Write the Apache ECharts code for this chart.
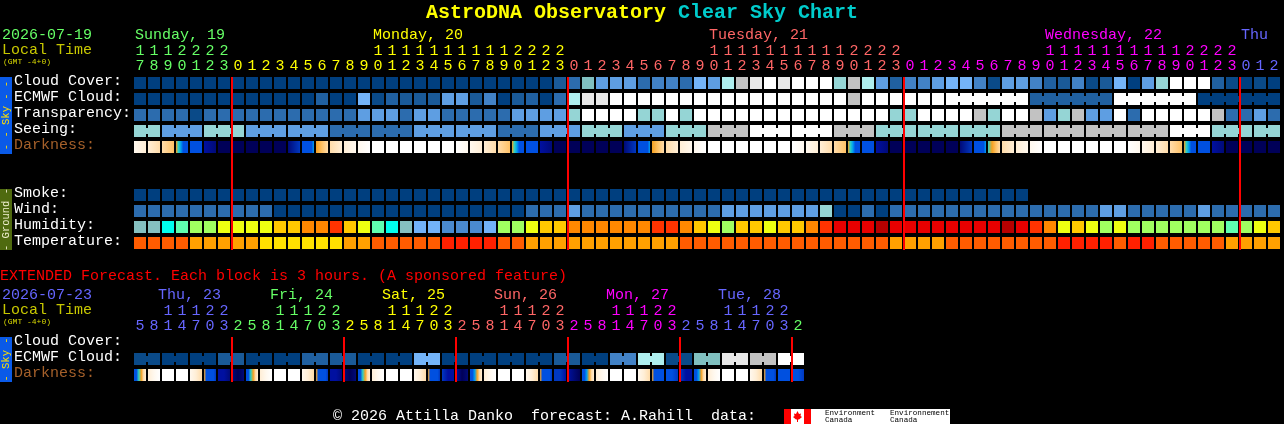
<!DOCTYPE html>
<html><head><meta charset="utf-8">
<style>html,body{margin:0;padding:0;background:#000;overflow:hidden}#c{width:1284px;height:424px}</style>
<script src="https://cdn.jsdelivr.net/npm/echarts@6/dist/echarts.min.js"></script>
</head><body><div id="c"></div>
<script>
// ---------- palettes (index = level)
const skyLevels = ['#003f7f','#0a4a88','#1a5a98','#2060a0','#2c6cae','#4282c6','#5e9ee2','#74b4f8','#aeeeee','#95d5d5','#80c0c0','#e8e8e8','#c2c2c2','#ffffff'];
const humidityLevels = ['#85c0c0','#00ffee','#5fffb0','#a0ff60','#eeff11','#ffc800','#ff8800','#ff3300','#e80000','#b80000','#72b2f8','#4a8ad0'];
const temperatureLevels = ['#ff2000','#ff5c00','#ffa000','#ffe000'];
const darknessLevels = ['#ffffff','#fff8ee','#ffeed6','#ffdcaa','#ffc266','#f5a020','#30d0c0','#00a0f0','#0050e0','#0038c0','#0010a0','#000a78','#000058'];

// ---------- main forecast, one value per hour
const hourTens =  ['1','1','1','2','2','2','2','','','','','','','','','','','1','1','1','1','1','1','1','1','1','1','2','2','2','2','','','','','','','','','','','1','1','1','1','1','1','1','1','1','1','2','2','2','2','','','','','','','','','','','1','1','1','1','1','1','1','1','1','1','2','2','2','2','','',''];
const hourUnits = ['7','8','9','0','1','2','3','0','1','2','3','4','5','6','7','8','9','0','1','2','3','4','5','6','7','8','9','0','1','2','3','0','1','2','3','4','5','6','7','8','9','0','1','2','3','4','5','6','7','8','9','0','1','2','3','0','1','2','3','4','5','6','7','8','9','0','1','2','3','4','5','6','7','8','9','0','1','2','3','0','1','2'];
const rowLabels = ['Cloud Cover:','ECMWF Cloud:','Transparency:','Seeing:','Darkness:','','','Smoke:','Wind:','Humidity:','Temperature:'];
const cloudCover = [
 0,0,0,0,0,0,0,0,0,0, 0,0,0,0,0,0,0,0,0,0, 0,0,0,0,0,0,0,0,0,0,
 2,4,10,6,6,6,4,5,5,4, 7,6,8,12,11,13,11,13,13,13,
 9,12,8,6,3,5,5,6,7,7, 5,1,6,6,5,3,2,5,1,2, 7,0,6,9,13,13,13,3,1,0,1,0];
const ecmwfCloud = [
 0,0,0,0,0,0,0,0,0,0, 0,0,0,3,0,0,7,1,3,2, 2,2,6,6,2,5,0,2,3,0,
 4,8,11,11,13,13,13,13,13,13, 13,13,13,13,13,13,13,13,13,13,
 13,12,13,13,13,13,13,13,13,13, 13,13,13,13,3,3,3,3,3,3, 13,13,13,13,13,13,0,0,0,0,0,0];
const ecmwfBlockLengths = [1,1,1,1,1,1,1,1,1,1,1,1,1,1,1,1,1,1,1,1,1,1,1,1,1,1,1,1,1,1,1,1,1,1,1,1,1,1,1,1,1,1,1,1,1,1,1,1,1,1,1,1,1,1,1,1,1,1,6,6,6,6];
const transparency = [
 4,4,4,4,1,4,4,4,4,4, 4,4,4,4,4,4,6,6,6,4, 6,6,4,4,4,4,4,6,6,6,
 6,9,13,13,13,13,9,9,13,9, 13,13,13,13,13,13,13,13,13,13,
 13,13,13,13,9,9,13,13,13,13, 12,9,13,13,12,6,9,12,6,6, 13,4,13,13,13,13,13,12,4,4,6,4];
const seeingBlocks = [9,6,9,6,6,4,4,6,6,4,6,9,6,9,12,13,13,12,9,9,9,12,12,12,12,13,9,9];
const seeingBlockLengths = [2,3,3,3,3,3,3,3,3,3,3,3,3,3,3,3,3,3,3,3,3,3,3,3,3,3,3,2];
const darkness = [
 [1,2],[2,3],[3,4],[5,6,7,8,8,8],[8,8],[10,11],[12,12],[12,12],[12,12],[12,12],[12,12],[11,9],[8,8,8,8,8,7],[5,4,3],[3,2],[2,1],[1,0],
 [0,0],[0,0],[0,0],[0,0],[0,0],[0,0],[0,1],[1,2],[2,3],[3,4],[5,6,7,8,8,8],[8,8],[10,11],[12,12],[12,12],[12,12],[12,12],[12,12],[11,9],[8,8,8,8,8,7],[5,4,3],[3,2],[2,1],[1,0],
 [0,0],[0,0],[0,0],[0,0],[0,0],[0,0],[0,1],[1,2],[2,3],[3,4],[5,6,7,8,8,8],[8,8],[10,11],[12,12],[12,12],[12,12],[12,12],[12,12],[11,9],[8,8,8,8,8,7],[6,5,4,3],[3,2],[2,1],[1,0],
 [0,0],[0,0],[0,0],[0,0],[0,0],[0,0],[0,1],[1,2],[2,3],[3,4],[5,6,7,8,8,8],[8,8],[10,11],[12,12],[12,12],[12,12],[12,12]];
const smoke = [
 0,0,0,0,0,0,0,0,0,0, 0,0,0,0,0,0,0,0,0,0, 0,0,0,0,0,0,0,0,0,0, 0,0,0,0,0,0,0,0,0,0,
 0,0,0,0,0,0,0,0,0,0, 0,0,0,0,0,0,0,0,0,0, 0,0,0,0];
const wind = [
 4,4,4,4,4,4,4,4,4,4, 0,0,0,0,0,0,0,0,0,0, 0,0,0,0,0,0,0,0,4,4,
 4,6,4,4,4,4,4,4,4,4, 4,4,6,6,6,6,6,6,6,9,
 0,0,4,0,4,4,4,4,4,4, 4,4,4,4,4,4,4,4,4,6, 6,4,4,4,4,4,6,4,4,4,4,4];
const humidity = [
 0,0,1,2,3,3,4,4,4,4, 5,5,6,6,7,5,4,2,1,0, 10,10,11,11,11,10,3,3,4,5,
 5,6,6,6,6,6,6,7,7,6, 5,4,3,5,5,4,5,5,6,7,
 8,8,8,9,8,8,8,8,8,8, 8,8,9,8,7,6,4,5,4,3, 4,3,3,3,3,3,3,3,2,3,4,5];
const temperature = [
 1,1,1,1,2,2,2,2,2,3, 3,3,3,3,3,2,2,1,1,1, 1,1,0,0,0,0,1,1,2,2,
 2,2,2,2,2,2,2,2,2,1, 1,1,1,1,1,1,1,1,1,1,
 1,1,1,1,2,2,2,2,1,1, 1,1,1,1,1,1,0,0,0,0, 1,0,0,1,1,1,1,1,2,2,2,2];
const midnightCols = [7,31,55,79];
const dayNames = ['Sunday, 19','Monday, 20','Tuesday, 21','Wednesday, 22','Thu'];
const dayCols = [0,17,41,65,79];

// ---------- extended forecast, each 3-hour block is two cells
const extTens =  ['','','1','1','1','2','2','','','','1','1','1','2','2','','','','1','1','1','2','2','','','','1','1','1','2','2','','','','1','1','1','2','2','','','','1','1','1','2','2',''];
const extUnits = ['5','8','1','4','7','0','3','2','5','8','1','4','7','0','3','2','5','8','1','4','7','0','3','2','5','8','1','4','7','0','3','2','5','8','1','4','7','0','3','2','5','8','1','4','7','0','3','2'];
const extRowLabels = ['Cloud Cover:','ECMWF Cloud:','Darkness:'];
const extEcmwfBlocks = [1,0,0,2,0,0,3,2,0,0,7,0,0,0,0,2,0,5,8,1,10,11,12,13];
const extDarkness = [
 [8,8,6,5,3,2],[2,1,0],[0,0],[0,0],[1,2,3],[5,8,8,8,8,9],[10,10,11],[11,12,11],
 [8,8,6,5,3,2],[2,1,0],[0,0],[0,0],[1,2,3],[5,8,8,8,8,9],[10,10,11],[11,12,11],
 [8,8,6,5,3,2],[2,1,0],[0,0],[0,0],[1,2,3],[5,8,8,8,8,9],[9,10,10],[10,12,11],
 [8,8,7,5,3,2],[2,1,0],[0,0],[0,0],[1,2,3],[5,8,8,8,8,9],[9,9,10],[10,11,12],
 [8,8,7,5,3,2],[2,1,0],[0,0],[0,0],[1,2,3],[5,8,8,8,8,8],[8,8,9],[9,10,10],
 [8,8,7,5,3,2],[2,1,0],[0,0],[0,0],[1,2,3],[5,8,8,8,8,9],[8,8,8],[8,8,9]];
const extMidnightCols = [7,15,23,31,39,47];
const extDayNames = ['Thu, 23','Fri, 24','Sat, 25','Sun, 26','Mon, 27','Tue, 28'];
const extDayCols = [2,10,18,26,34,42];

// ---------- colours of the days
const dayColors = ['#66ff66','#ffff00','#ff6666','#ff00ff','#6666ff'];
const extDayColors = ['#6666ff','#66ff66','#ffff00','#ff6666','#ff00ff','#6666ff','#66ff66'];

const FONT = '"Liberation Mono", monospace';
const gridLeft = 133, cellW = 14, rowH = 16, cellSize = 12, joinH = 6;

function mainHourColor(i){ let d = 0; midnightCols.forEach((c,k)=>{ if(i>=c) d=k+1; }); return dayColors[d]; }
function extHourColor(i){ let d = 0; extMidnightCols.forEach((c,k)=>{ if(i>=c) d=k+1; }); return extDayColors[d]; }

function expand(vals, lens){ const o=[]; vals.forEach((v,k)=>{ for(let j=0;j<lens[k];j++) o.push(v); }); return o; }
function joinsFrom(lens){ const o=[]; lens.forEach(n=>{ for(let j=0;j<n;j++) o.push(j<n-1); }); return o; }

// one row of blocks
function rowSeries(axisIdx, row, values, palette, joins){
  return { type:'custom', xAxisIndex:axisIdx.x, yAxisIndex:axisIdx.y, clip:false, silent:true,
    data: values.map((v,i)=>[i,row,v]),
    renderItem:(p,api)=>{
      const i=api.value(0), c=api.coord([i,row]), sz=api.size([1,1]);
      const x=c[0]-sz[0]/2+1, y=c[1]-sz[1]/2+2, fill=palette[api.value(2)];
      const kids=[{type:'rect',shape:{x,y,width:cellSize,height:cellSize},style:{fill}}];
      if(joins && joins[i]) kids.push({type:'rect',shape:{x:x+cellSize,y:y+(cellSize-joinH)/2,width:sz[0]-cellSize,height:joinH},style:{fill}});
      return {type:'group',children:kids};
    }};
}
// a row in which every cell is a gradient through several darkness levels
function gradientSeries(axisIdx, row, stopsList){
  return { type:'custom', xAxisIndex:axisIdx.x, yAxisIndex:axisIdx.y, clip:false, silent:true,
    data: stopsList.map((s,i)=>[i,row]),
    renderItem:(p,api)=>{
      const i=api.value(0), c=api.coord([i,row]), sz=api.size([1,1]), s=stopsList[i];
      return {type:'rect',shape:{x:c[0]-sz[0]/2+1,y:c[1]-sz[1]/2+2,width:cellSize,height:cellSize},
        style:{fill:{type:'linear',x:0,y:0,x2:1,y2:0,colorStops:s.map((l,k)=>({offset:k/(s.length-1),color:darknessLevels[l]}))}}};
    }};
}
// midnight lines
function lineSeries(axisIdx, cols, firstRow, lastRow){
  return { type:'custom', xAxisIndex:axisIdx.x, yAxisIndex:axisIdx.y, clip:false, silent:true, z:5,
    data: cols.map(c=>[c]),
    renderItem:(p,api)=>{
      const c=api.coord([api.value(0),firstRow]), e=api.coord([api.value(0),lastRow]), sz=api.size([1,1]);
      return {type:'rect',shape:{x:c[0]-sz[0]/2,y:c[1]-sz[1]/2+2,width:2,height:e[1]-c[1]+sz[1]-3},style:{fill:'#ff0000'}};
    }};
}
function hourAxis(grid, cats, offset, colorFn){
  return {type:'category',gridIndex:grid,position:'top',offset,data:cats,boundaryGap:true,
    axisLine:{show:false},axisTick:{show:false},splitLine:{show:false},
    axisLabel:{show:true,interval:0,margin:1,hideOverlap:false,fontFamily:FONT,fontSize:15,color:(v,i)=>colorFn(i)}};
}
function rowAxis(grid, labels, colorFn){
  return {type:'category',gridIndex:grid,inverse:true,data:labels,boundaryGap:true,
    axisLine:{show:false},axisTick:{show:false},splitLine:{show:false},
    axisLabel:{show:true,interval:0,margin:119,align:'left',verticalAlign:'bottom',lineHeight:4,hideOverlap:false,fontFamily:FONT,fontSize:15,color:(v,i)=>colorFn(v)}};
}
const labelColor = v => v==='Darkness:' ? '#a5602a' : '#ffffff';

function txt(x,y,text,fill,size,extra){
  return Object.assign({type:'text',x,y,silent:true,style:{text,fill,font:(size||15)+'px '+FONT,textVerticalAlign:'middle',textAlign:'left'}},extra||{});
}
function strip(y,h,color,text,textColor){
  return [
    {type:'rect',silent:true,shape:{x:0,y,width:12,height:h},style:{fill:color}},
    {type:'text',silent:true,x:6,y:y+h/2,rotation:Math.PI/2,style:{text,fill:textColor,font:'10.5px '+FONT,textAlign:'center',textVerticalAlign:'middle'}}
  ];
}
const graphics = [
  ...strip(77,77,'#0a5ae8','- - Sky - -','#ffe000'),
  ...strip(189,61,'#4f6a0f','- Ground -','#f0f0d0'),
  ...strip(337,45,'#0a5ae8','- Sky -','#ffe000'),
  txt(2,35,'2026-07-19','#66ff66'), txt(2,50,'Local Time','#c8c800'), txt(3,62,'(GMT -4+0)','#d8d800',8),
  txt(0,276,'EXTENDED Forecast. Each block is 3 hours. (A sponsored feature)','#ff0000'),
  txt(2,295,'2026-07-23','#6666ff'), txt(2,310,'Local Time','#c8c800'), txt(3,322,'(GMT -4+0)','#d8d800',8),
  ...dayNames.map((n,k)=>txt(gridLeft+2+cellW*dayCols[k],35,n,dayColors[k])),
  ...extDayNames.map((n,k)=>txt(gridLeft-3+cellW*extDayCols[k],295,n,extDayColors[k])),
  txt(333,416,'\u00a9 2026 Attilla Danko  forecast: A.Rahill  data:','#ffffff'),
  {type:'rect',silent:true,shape:{x:784,y:409,width:166,height:15},style:{fill:'#ffffff'}},
  {type:'rect',silent:true,shape:{x:784,y:409,width:7,height:15},style:{fill:'#ff0000'}},
  {type:'rect',silent:true,shape:{x:804,y:409,width:7,height:15},style:{fill:'#ff0000'}},
  {type:'polygon',silent:true,shape:{points:[[797.5,411],[799,414],[801,413.5],[800.5,416],[802,417],[799,419.5],[798,419.5],[798,422],[797,422],[797,419.5],[796,419.5],[793,417],[794.5,416],[794,413.5],[796,414]]},style:{fill:'#ff0000'}},
  txt(825,413,'Environment','#000000',7.6), txt(825,420,'Canada','#000000',7.6),
  txt(890,413,'Environnement','#000000',7.6), txt(890,420,'Canada','#000000',7.6)
];

const A = {x:0,y:0}, E = {x:2,y:1};
const option = {
  animation:false, backgroundColor:'#000000',
  title:{left:426,top:3,padding:0,text:'{a|AstroDNA Observatory }{b|Clear Sky Chart}',
    textStyle:{rich:{a:{fontFamily:FONT,fontSize:20,fontWeight:'bold',color:'#ffff00'},b:{fontFamily:FONT,fontSize:20,fontWeight:'bold',color:'#00cccc'}}}},
  grid:[
    {left:gridLeft,top:75,width:cellW*hourUnits.length,height:rowH*rowLabels.length},
    {left:gridLeft,top:335,width:cellW*extUnits.length,height:rowH*extRowLabels.length}
  ],
  xAxis:[
    hourAxis(0,hourUnits,0,mainHourColor), hourAxis(0,hourTens,15,mainHourColor),
    hourAxis(1,extUnits,0,extHourColor), hourAxis(1,extTens,15,extHourColor)
  ],
  yAxis:[rowAxis(0,rowLabels,labelColor),rowAxis(1,extRowLabels,labelColor)],
  series:[
    rowSeries(A,0,cloudCover,skyLevels),
    rowSeries(A,1,ecmwfCloud,skyLevels,joinsFrom(ecmwfBlockLengths)),
    rowSeries(A,2,transparency,skyLevels),
    rowSeries(A,3,expand(seeingBlocks,seeingBlockLengths),skyLevels,joinsFrom(seeingBlockLengths)),
    gradientSeries(A,4,darkness),
    rowSeries(A,7,smoke,skyLevels),
    rowSeries(A,8,wind,skyLevels),
    rowSeries(A,9,humidity,humidityLevels),
    rowSeries(A,10,temperature,temperatureLevels),
    lineSeries(A,midnightCols,0,10),
    rowSeries(E,1,expand(extEcmwfBlocks,extEcmwfBlocks.map(()=>2)),skyLevels,joinsFrom(extEcmwfBlocks.map(()=>2))),
    gradientSeries(E,2,extDarkness),
    lineSeries(E,extMidnightCols,0,2)
  ],
  graphic:{elements:graphics}
};
const chart = echarts.init(document.getElementById('c'),null,{renderer:'canvas',devicePixelRatio:1});
chart.setOption(option);
</script></body></html>
